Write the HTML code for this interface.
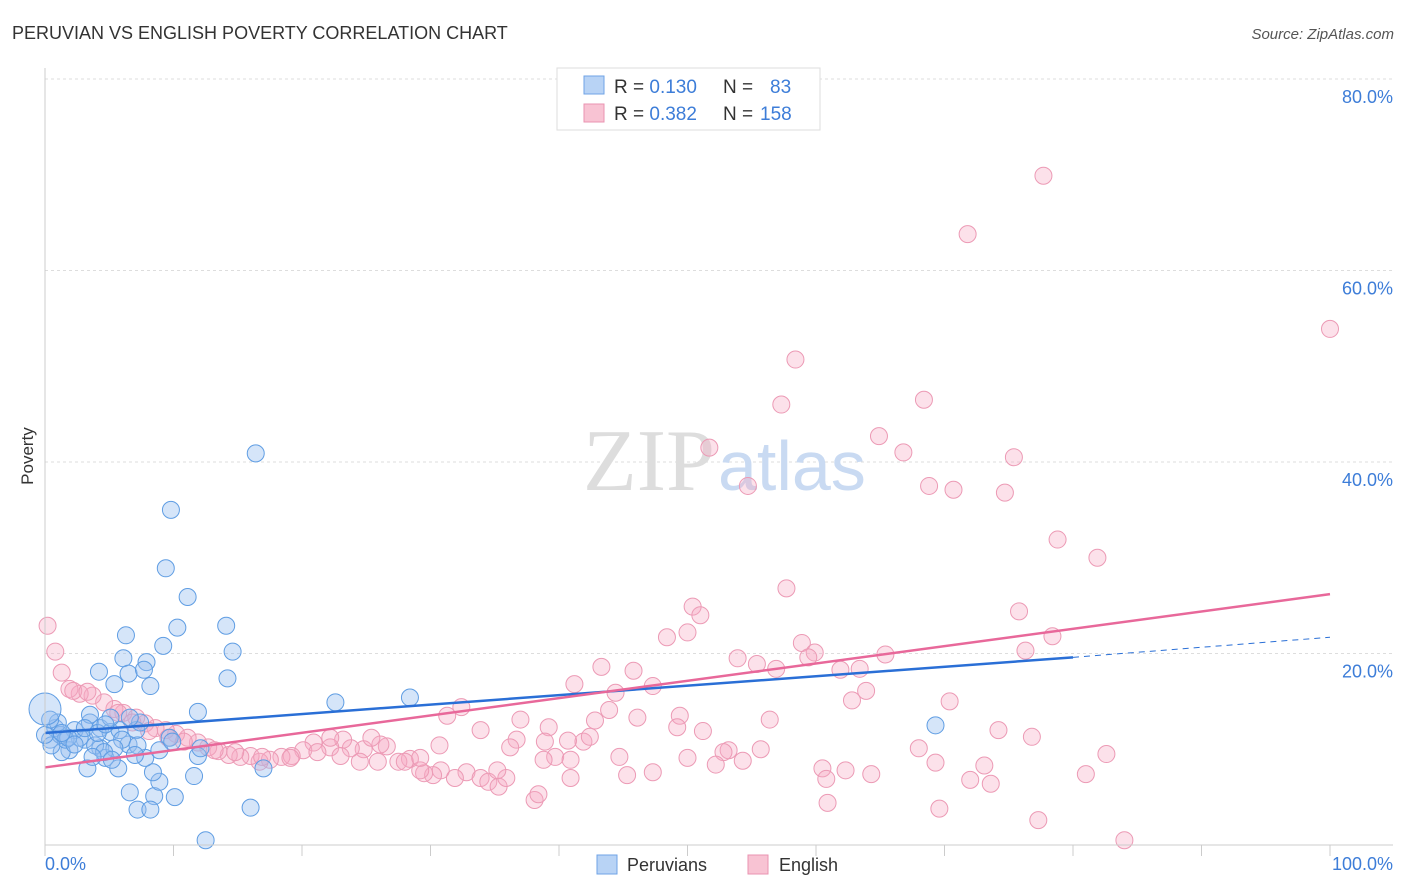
<!DOCTYPE html>
<html><head><meta charset="utf-8"><style>
body{margin:0;background:#fff;font-family:"Liberation Sans",sans-serif;}
#wrap{position:relative;width:1406px;height:892px;overflow:hidden;}
svg{position:absolute;left:0;top:0;}
</style></head><body>
<div id="wrap">
<svg id="chart" width="1406" height="892">
<text x="12" y="39" font-size="18" fill="#333">PERUVIAN VS ENGLISH POVERTY CORRELATION CHART</text>
<text x="1394" y="39" font-size="15" fill="#555" font-style="italic" text-anchor="end">Source: ZipAtlas.com</text>
<text x="33" y="456" font-size="17" fill="#333" text-anchor="middle" transform="rotate(-90 33 456)">Poverty</text>
<g id="grid"></g>
<text x="715" y="490" font-size="88" fill="#ddd" text-anchor="end" font-family="Liberation Serif,serif">ZIP</text>
<text x="718" y="490" font-size="70" fill="#c9daf2">atlas</text>
<g id="pts"></g>
<g id="trend"></g>
<line x1="45" y1="845" x2="1393" y2="845" stroke="#ccc"/>
<line x1="45" y1="68" x2="45" y2="845" stroke="#ccc"/>
<g id="xt"></g>
<text x="45" y="870" font-size="18" fill="#3d7dd8">0.0%</text>
<text x="1393" y="870" font-size="18" fill="#3d7dd8" text-anchor="end">100.0%</text>
<g>
<rect x="557" y="68" width="263" height="62" fill="#fff" stroke="#ddd"/>
<rect x="584" y="76" width="20" height="18" fill="#b8d3f5" stroke="#6fa3e6"/>
<rect x="584" y="104" width="20" height="18" fill="#f8c3d3" stroke="#ea93b0"/>
<text x="614" y="93" font-size="19" fill="#333">R = <tspan fill="#3d7dd8">0.130</tspan><tspan x="723">N = </tspan><tspan x="770" fill="#3d7dd8">83</tspan></text>
<text x="614" y="120" font-size="19" fill="#333">R = <tspan fill="#3d7dd8">0.382</tspan><tspan x="723">N = </tspan><tspan x="760" fill="#3d7dd8">158</tspan></text>
</g>
<g>
<rect x="597" y="855" width="20" height="19" fill="#b8d3f5" stroke="#6fa3e6"/>
<text x="627" y="871" font-size="18" fill="#333">Peruvians</text>
<rect x="748" y="855" width="20" height="19" fill="#f8c3d3" stroke="#ea93b0"/>
<text x="779" y="871" font-size="18" fill="#333">English</text>
</g>
</svg>
</div>
<script>
const yTicks=[20,40,60,80];
const yTickLabels=["20.0%","40.0%","60.0%","80.0%"];
const xTicks=[0,10,20,30,40,50,60,70,80,90,100];
const blueX=[16.4,9.8,9.4,11.1,10.3,14.1,9.2,14.6,6.3,6.1,7.9,4.2,6.5,7.7,5.4,8.2,14.2,11.9,22.6,28.4,69.3,17.0,16.0,12.5,11.6,10.1,8.5,8.9,8.4,7.2,8.2,6.6,3.3,5.7,4.7,7.8,8.9,11.9,9.7,6.5,4.3,3.1,1.9,1.3,0.4,0.8,1.2,2.3,3.5,4.3,5.1,5.8,3.9,2.7,1.6,0.5,1.0,5.1,3.5,7.1,7.4,6.6,6.0,5.4,4.6,1.8,2.3,1.3,0,0.4,3.1,4.1,4.7,7.2,9.9,12.1,7.0,5.2,3.7,0];
const blueY=[40.9,35.0,28.9,25.9,22.7,22.9,20.8,20.2,21.9,19.5,19.1,18.1,17.9,18.3,16.8,16.6,17.4,13.9,14.9,15.4,12.5,8.0,3.9,0.5,7.2,5.0,5.1,6.6,7.6,3.7,3.7,5.5,8.0,8.0,9.1,9.1,9.9,9.3,11.2,10.5,10.1,11.0,9.9,9.7,11.0,12.2,11.5,12.0,12.8,12.2,11.8,12.0,10.4,11.2,11.0,10.4,12.8,13.3,13.6,12.0,12.8,13.3,11.0,10.1,9.7,11.2,10.5,11.7,11.5,13.1,12.2,11.7,12.6,10.4,10.8,10.1,9.4,8.9,9.2,14.2];
const pinkX=[77.7,71.8,100,58.4,57.3,68.4,51.7,64.9,66.8,54.7,68.8,70.7,74.7,75.4,78.8,81.9,57.7,50.4,51.0,75.8,48.4,50.0,58.9,78.4,59.9,59.4,65.4,76.3,53.9,55.4,56.9,61.9,63.4,43.3,45.8,41.2,47.3,63.9,44.4,62.8,70.4,43.9,32.4,31.3,46.1,49.4,42.8,37.0,39.2,49.2,56.4,51.2,74.2,76.8,33.9,36.7,41.9,38.9,40.7,55.7,53.2,52.8,68.0,44.7,82.6,36.2,39.7,54.3,52.2,69.3,73.1,60.5,62.3,64.3,60.8,81.0,47.3,45.3,40.9,32.8,30.8,30.2,29.5,28.4,27.5,26.6,26.1,24.8,23.8,23.2,22.2,20.9,20.1,19.2,18.4,17.5,16.7,16.0,15.2,14.3,13.5,12.7,11.9,11.1,10.2,9.4,8.6,7.8,7.1,6.1,5.4,4.6,3.7,2.7,1.9,1.3,0.8,0.2,2.2,3.3,5.7,6.8,8.1,9.6,10.8,13.2,14.8,16.9,19.1,21.2,23.0,24.5,25.9,28.0,29.2,31.9,33.9,34.5,35.3,35.9,38.1,38.4,38.8,60.9,69.6,73.6,77.3,84.0,72.0,40.9,30.7,35.2,25.4,22.2,29.2,42.4,50.0];
const pinkY=[69.9,63.8,53.9,50.7,46.0,46.5,41.5,42.7,41.0,37.5,37.5,37.1,36.8,40.5,31.9,30.0,26.8,24.9,24.0,24.4,21.7,22.2,21.1,21.8,20.1,19.6,19.9,20.3,19.5,18.9,18.4,18.3,18.4,18.6,18.2,16.8,16.6,16.1,15.9,15.1,15.0,14.1,14.4,13.5,13.3,13.5,13.0,13.1,12.3,12.3,13.1,11.9,12.0,11.3,12.0,11.0,10.8,10.8,10.9,10.0,9.9,9.7,10.1,9.2,9.5,10.2,9.2,8.8,8.4,8.6,8.3,8.0,7.8,7.4,6.9,7.4,7.6,7.3,7.0,7.6,7.8,7.3,7.5,9.0,8.7,10.3,10.5,10.0,10.1,11.0,10.2,10.7,9.9,9.3,9.2,8.9,8.7,9.3,9.2,9.4,9.8,10.2,10.7,11.2,11.6,12.0,12.2,12.7,13.3,13.8,14.2,14.9,15.6,15.8,16.3,18.0,20.2,22.9,16.1,16.0,13.8,12.8,11.9,11.2,10.8,9.9,9.7,9.2,9.1,9.7,9.3,8.7,8.7,8.7,7.8,7.0,7.0,6.6,6.1,7.0,4.7,5.3,8.9,4.4,3.8,6.4,2.6,0.5,6.8,8.9,10.4,7.8,11.2,11.2,9.1,11.3,9.1];
const blueTrendX=[0,80,100];
const blueTrendY=[11.7,19.6,21.7];
const pinkTrendX=[0,100];
const pinkTrendY=[8.1,26.2];

const NS="http://www.w3.org/2000/svg";
const sx=v=>45+v*12.85;
const sy=v=>845-v*9.575;
function mk(tag,attrs,parent){const e=document.createElementNS(NS,tag);for(const k in attrs)e.setAttribute(k,attrs[k]);parent.appendChild(e);return e;}
const grid=document.getElementById('grid');
yTicks.forEach((t,i)=>{
  const l=mk('line',{x1:45,x2:1393,y1:sy(t),y2:sy(t),stroke:'#ddd','stroke-dasharray':'3,3'},grid);
  
  
  const tx=mk('text',{x:1393,y:sy(t)+24,'font-size':18,fill:'#3d7dd8','text-anchor':'end'},grid);
  tx.textContent=yTickLabels[i];
  
  
});
const xt=document.getElementById('xt');
xTicks.forEach(t=>{
  const l=mk('line',{x1:sx(t),x2:sx(t),y1:845,y2:856,stroke:'#ccc'},xt);
  
  
});
const pts=document.getElementById('pts');
pinkX.forEach((x,i)=>{
  const c=mk('circle',{cx:sx(x),cy:sy(pinkY[i]),r:8.5,fill:'rgba(245,170,195,0.35)',stroke:'#ec9ab5','stroke-width':1},pts);
  
  
});
blueX.forEach((x,i)=>{
  const big=i===blueX.length-1;
  const c=mk('circle',{cx:sx(x),cy:sy(blueY[i]),r:big?16:8.5,fill:'rgba(150,190,240,0.4)',stroke:'#5f9de3','stroke-width':1},pts);
  
  
});
const tr=document.getElementById('trend');
const bl=mk('line',{x1:sx(blueTrendX[0]),y1:sy(blueTrendY[0]),x2:sx(blueTrendX[1]),y2:sy(blueTrendY[1]),stroke:'#2a6fd6','stroke-width':2.5},tr);


const bd=mk('line',{x1:sx(blueTrendX[1]),y1:sy(blueTrendY[1]),x2:sx(blueTrendX[2]),y2:sy(blueTrendY[2]),stroke:'#2a6fd6','stroke-width':1,'stroke-dasharray':'6,5'},tr);


const pl=mk('line',{x1:sx(pinkTrendX[0]),y1:sy(pinkTrendY[0]),x2:sx(pinkTrendX[1]),y2:sy(pinkTrendY[1]),stroke:'#e8689a','stroke-width':2.5},tr);


</script>
</body></html>
